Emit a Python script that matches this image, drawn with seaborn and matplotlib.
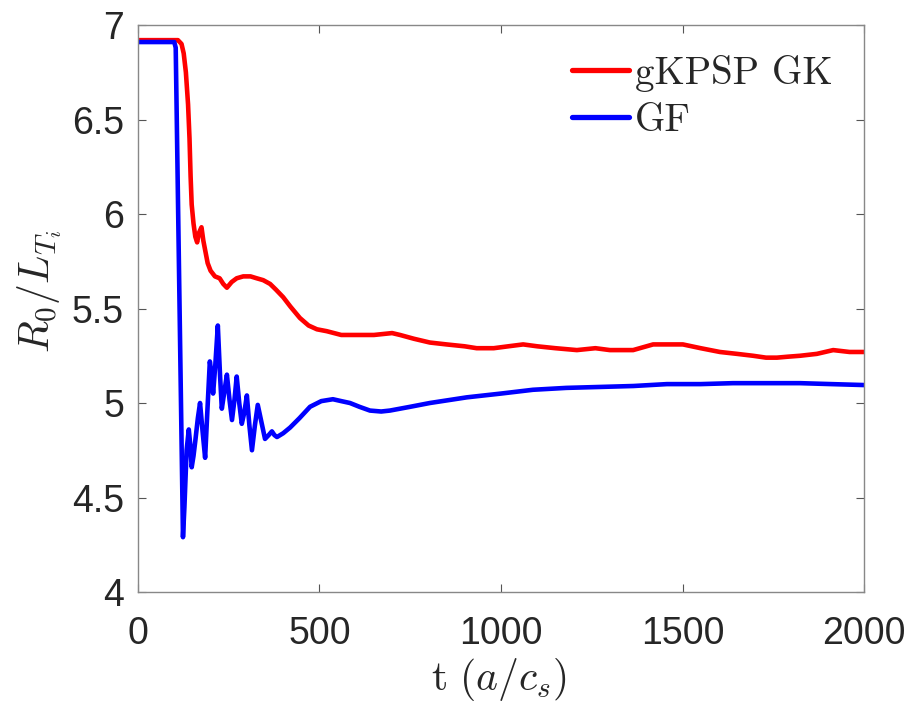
import matplotlib
matplotlib.use("Agg")
import matplotlib.pyplot as plt
import seaborn as sns
import pandas as pd

# ---- data ----
t_gk = [0, 110, 120, 126, 132, 138, 142, 145, 148, 153, 158, 163, 168, 175, 180, 186, 192,
        200, 212, 225, 235, 245, 258, 272, 290, 310, 327, 345, 364, 380, 400, 420, 446,
        470, 493, 520, 560, 600, 650, 700, 722, 760, 804, 850, 900, 933, 980, 1020, 1061,
        1100, 1150, 1209, 1260, 1300, 1364, 1419, 1460, 1501, 1550, 1603, 1650, 1694,
        1730, 1760, 1790, 1824, 1870, 1915, 1960, 2000]
v_gk = [6.92, 6.92, 6.90, 6.85, 6.75, 6.58, 6.40, 6.20, 6.05, 5.95, 5.88, 5.85, 5.90, 5.93,
        5.86, 5.80, 5.74, 5.70, 5.67, 5.66, 5.63, 5.61, 5.64, 5.66, 5.67, 5.67, 5.66, 5.65,
        5.63, 5.60, 5.56, 5.51, 5.45, 5.41, 5.39, 5.38, 5.36, 5.36, 5.36, 5.37, 5.36, 5.34,
        5.32, 5.31, 5.30, 5.29, 5.29, 5.30, 5.31, 5.30, 5.29, 5.28, 5.29, 5.28, 5.28, 5.31,
        5.31, 5.31, 5.29, 5.27, 5.26, 5.25, 5.24, 5.24, 5.245, 5.25, 5.26, 5.28, 5.27, 5.27]

t_gf = [0, 100, 104, 124, 128, 134, 140, 144, 148, 153, 158, 165, 171, 178, 185, 191, 198,
        203, 207, 213, 220, 226, 231, 238, 245, 252, 259, 266, 272, 279, 286, 293, 300,
        307, 314, 322, 330, 340, 350, 360, 369, 376, 383, 400, 419, 445, 474, 505, 537,
        560, 584, 610, 639, 670, 694, 750, 804, 906, 1000, 1088, 1180, 1273, 1365, 1457,
        1550, 1639, 1730, 1824, 1910, 2000]
v_gf = [6.91, 6.91, 6.88, 4.29, 4.45, 4.75, 4.86, 4.78, 4.66, 4.72, 4.80, 4.92, 5.00, 4.85,
        4.71, 4.95, 5.22, 5.15, 5.05, 5.20, 5.41, 5.15, 4.97, 5.06, 5.15, 5.02, 4.91, 5.02,
        5.14, 5.00, 4.89, 4.95, 5.04, 4.88, 4.75, 4.88, 4.99, 4.90, 4.81, 4.83, 4.85, 4.83,
        4.82, 4.84, 4.87, 4.92, 4.98, 5.01, 5.02, 5.01, 5.00, 4.98, 4.96, 4.955, 4.96, 4.98,
        5.00, 5.03, 5.05, 5.07, 5.08, 5.085, 5.09, 5.10, 5.10, 5.105, 5.105, 5.105, 5.10, 5.095]

series_names = ["gKPSP GK", "GF"]
x_ticks = [0, 500, 1000, 1500, 2000]
x_tick_labels = ["0", "500", "1000", "1500", "2000"]
y_ticks = [4, 4.5, 5, 5.5, 6, 6.5, 7]
y_tick_labels = ["4", "4.5", "5", "5.5", "6", "6.5", "7"]

sns.set_style("white")
plt.rcParams["mathtext.fontset"] = "cm"

fig = plt.figure(figsize=(9.10, 7.03), dpi=100)
ax = fig.add_axes([0.1516, 0.1579, 0.7979, 0.8065])

df_gk = pd.DataFrame({"t": t_gk, "v": v_gk})
df_gf = pd.DataFrame({"t": t_gf, "v": v_gf})
sns.lineplot(data=df_gk, x="t", y="v", ax=ax, color="#ff0000", lw=3.3,
             estimator=None, sort=False, label=series_names[0])
sns.lineplot(data=df_gf, x="t", y="v", ax=ax, color="#0000ff", lw=3.3,
             estimator=None, sort=False, label=series_names[1])

ax.set_xlim(0, 2000)
ax.set_ylim(4, 7)
ax.set_xticks(x_ticks)
ax.set_xticklabels(x_tick_labels)
ax.set_yticks(y_ticks)
ax.set_yticklabels(y_tick_labels)

for lab in ax.get_xticklabels() + ax.get_yticklabels():
    lab.set_family("Liberation Sans")
    lab.set_fontsize(27)
    lab.set_color("#262626")

ax.tick_params(axis="both", direction="in", length=6, width=0.8, color="#555555",
               top=True, right=True, bottom=True, left=True)
ax.tick_params(axis="x", pad=17)
ax.tick_params(axis="y", pad=10)
for s in ax.spines.values():
    s.set_visible(True)
    s.set_color("#888888")
    s.set_linewidth(1.0)

ax.set_xlabel(r"$\mathrm{t}\ (a/c_s)$", fontsize=30, color="#262626")
ax.xaxis.set_label_coords(0.497, -0.113)
ax.xaxis.label.set_va("top")
ax.set_ylabel(r"$R_0/L_{T_i}$", fontsize=30, color="#262626")
ax.yaxis.set_label_coords(-0.102, 0.53)

leg = ax.legend(loc="upper right", bbox_to_anchor=(0.957, 0.948), frameon=False,
                prop={"size": 28}, handlelength=1.47, handletextpad=0.15,
                labelspacing=0.3, borderaxespad=0.0, borderpad=0.0)
for txt in leg.get_texts():
    txt.set_fontfamily(["cmr10", "DejaVu Serif"])
for h in leg.legend_handles:
    h.set_linewidth(3.8)

fig.savefig("out.png", dpi=100)
